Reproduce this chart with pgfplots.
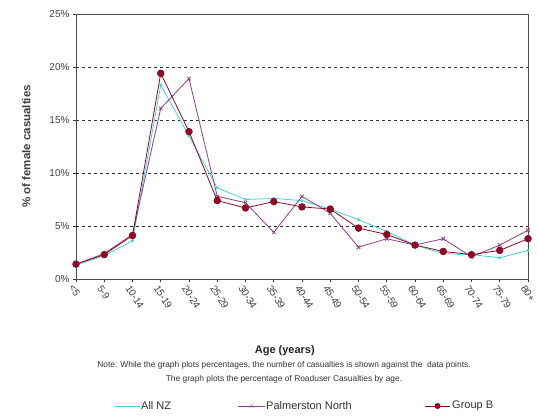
\documentclass[border=0pt]{standalone}
\usepackage{pgfplots}
\pgfplotsset{compat=1.18}
\usepackage{fontspec}
\setmainfont{Liberation Sans}
\definecolor{nzc}{RGB}{70,210,215}
\definecolor{pnc}{RGB}{145,60,140}
\definecolor{gbc}{RGB}{140,10,35}
\begin{document}
\begin{tikzpicture}[x=1pt,y=1pt]
\useasboundingbox (-76,-139) rectangle (462,279);
\begin{axis}[
  at={(0,0)}, anchor=south west,
  scale only axis, width=452pt, height=265pt,
  xmin=0, xmax=16, ymin=0, ymax=25,
  xtick={0,...,16},
  xticklabels={<5,5-9,10-14,15-19,20-24,25-29,30-34,35-39,40-44,45-49,50-54,55-59,60-64,65-69,70-74,75-79,80+},
  xticklabel style={rotate=-58, anchor=west, font=\fontsize{10}{11}\selectfont, text=black!75, inner sep=1pt, yshift=-6pt},
  ytick={0,5,10,15,20,25},
  yticklabel={\pgfmathprintnumber{\tick}\%},
  yticklabel style={font=\fontsize{10}{11}\selectfont, text=black!75},
  /pgf/number format/assume math mode=true,
  tick align=outside, major tick length=3pt,
  tick style={black!80, thick},
  axis line style={black!70, thick},
  ymajorgrids, grid style={black!80, dashed, thick},
  axis x line*=box, axis y line*=box,
  xtick pos=bottom, ytick pos=left,
  xlabel={\textbf{Age (years)}},
  xlabel style={font=\fontsize{11}{12}\selectfont, text=black!85, at={(axis description cs:0.462,0)}, anchor=north, yshift=-63pt},
  ylabel={\textbf{\% of female casualties}},
  ylabel style={font=\fontsize{11.5}{12}\selectfont, text=black!75, yshift=12pt},
  clip=false,
]
\addplot[color=nzc, thick, mark=asterisk, mark size=1.5pt] coordinates {
(0,1.3)(1,2.2)(2,3.6)(3,18.3)(4,13.5)(5,8.6)(6,7.5)(7,7.6)(8,7.4)(9,6.6)(10,5.6)(11,4.5)(12,3.2)(13,2.4)(14,2.3)(15,2.0)(16,2.7)};
\addplot[color=pnc, thick, mark=x, mark size=2.5pt] coordinates {
(0,1.4)(1,2.4)(2,4.2)(3,16.1)(4,18.9)(5,7.8)(6,7.2)(7,4.4)(8,7.8)(9,6.2)(10,3.0)(11,3.8)(12,3.2)(13,3.8)(14,2.1)(15,3.2)(16,4.6)};
\addplot[color=gbc, thick, mark=*, mark size=3.3pt, mark options={fill=gbc}] coordinates {
(0,1.4)(1,2.3)(2,4.1)(3,19.4)(4,13.9)(5,7.4)(6,6.7)(7,7.3)(8,6.8)(9,6.6)(10,4.8)(11,4.2)(12,3.2)(13,2.6)(14,2.3)(15,2.7)(16,3.8)};
\end{axis}
\node[font=\fontsize{8.4}{14}\selectfont, text=black!80, align=center] at (208,-93) {Note: While the graph plots percentages, the number of casualties is shown against the\ \ data points.\\The graph plots the percentage of Roaduser Casualties by age.};
% legend
\draw[nzc, thick] (39,-127) -- (64,-127);
\node[font=\fontsize{11}{12}\selectfont, text=black!80, anchor=west, inner sep=1pt] at (64,-127) {All NZ};
\draw[pnc, thick] (162,-127) -- (189,-127);
\node[pnc, font=\fontsize{9}{9}\selectfont, inner sep=0pt] at (175.5,-127) {$\times$};
\node[font=\fontsize{11}{12}\selectfont, text=black!80, anchor=west, inner sep=1pt] at (189,-127) {Palmerston North};
\draw[gbc, thick] (349,-127) -- (374,-127);
\fill[gbc] (361.5,-127) circle (3pt);
\node[font=\fontsize{11}{12}\selectfont, text=black!80, anchor=west, inner sep=1pt] at (375,-127) {Group B};
\end{tikzpicture}
\end{document}
